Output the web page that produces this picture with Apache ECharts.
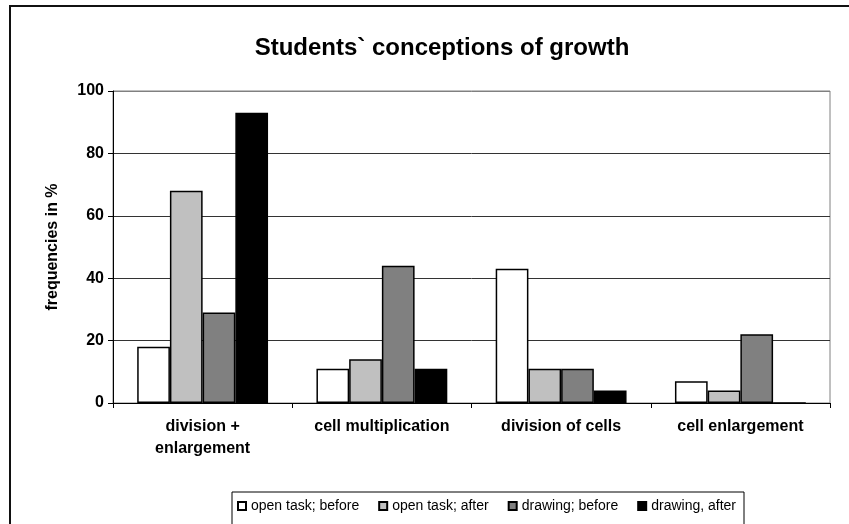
<!DOCTYPE html>
<html>
<head>
<meta charset="utf-8">
<script src="https://cdn.jsdelivr.net/npm/echarts@6/dist/echarts.min.js"></script>
<style>
  html, body { margin: 0; padding: 0; background: #fff; }
  #chart { width: 849px; height: 524px; }
</style>
</head>
<body>
<div id="chart"></div>
<script>
// Growth conception categories and the four survey series (percent)
const categories = ['division +\nenlargement', 'cell multiplication', 'division of cells', 'cell enlargement'];
const seriesNames = ['open task; before', 'open task; after', 'drawing; before', 'drawing, after'];
const openBefore = [18, 11, 43, 7];
const openAfter = [68, 14, 11, 4];
const drawBefore = [29, 44, 11, 22];
const drawAfter = [93, 11, 4, 0];
const yTicks = [0, 20, 40, 60, 80, 100];

const fills = ['#ffffff', '#c0c0c0', '#808080', '#000000'];
const values = [openBefore, openAfter, drawBefore, drawAfter];
const font = '"Liberation Sans", Arial, sans-serif';

const chart = echarts.init(document.getElementById('chart'));
chart.setOption({
  animation: false,
  backgroundColor: '#ffffff',
  title: {
    text: 'Students` conceptions of growth',
    left: 437,
    top: 31,
    textAlign: 'center',
    textStyle: { fontFamily: font, fontSize: 24, fontWeight: 'bold', color: '#000' }
  },
  graphic: [{
    type: 'rect',
    shape: { x: 10, y: 6, width: 900, height: 600 },
    style: { fill: 'none', stroke: '#111', lineWidth: 2 },
    z: 100
  }],
  legend: {
    left: 232,
    top: 492,
    orient: 'horizontal',
    padding: [7, 8, 40, 5],
    borderColor: '#000',
    borderWidth: 1,
    itemWidth: 8,
    itemHeight: 8,
    itemGap: 19,
    itemTextGap: 8,
    icon: 'rect',
    textStyle: { fontFamily: font, fontSize: 14, color: '#000' },
    data: seriesNames
  },
  grid: {
    left: 113, right: 19, top: 91, bottom: 121,
    show: true, borderColor: '#808080', borderWidth: 1
  },
  xAxis: {
    type: 'category',
    data: categories,
    axisLine: { lineStyle: { color: '#000', width: 1 } },
    axisTick: { show: true, length: 5, lineStyle: { color: '#000' } },
    axisLabel: {
      fontFamily: font, fontSize: 16, fontWeight: 'bold', color: '#000',
      margin: 13, lineHeight: 22, interval: 0
    },
    splitLine: { show: false }
  },
  yAxis: {
    type: 'value',
    min: yTicks[0],
    max: yTicks[yTicks.length - 1],
    interval: 20,
    name: 'frequencies in %',
    nameLocation: 'middle',
    nameGap: 52,
    nameTextStyle: { fontFamily: font, fontSize: 16, fontWeight: 'bold', color: '#000' },
    axisLine: { show: true, lineStyle: { color: '#000', width: 1 } },
    axisTick: { show: true, length: 5, lineStyle: { color: '#000' } },
    axisLabel: { fontFamily: font, fontSize: 16, fontWeight: 'bold', color: '#000', margin: 9 },
    splitLine: {
      show: true,
      lineStyle: { color: ['#000', '#333', '#333', '#333', '#333', '#808080'], width: 1 }
    }
  },
  series: seriesNames.map((name, i) => ({
    name: name,
    type: 'bar',
    data: values[i],
    barGap: '0%',
    barCategoryGap: '27%',
    itemStyle: { color: fills[i], borderColor: '#000', borderWidth: 1.5 }
  }))
});
</script>
</body>
</html>
